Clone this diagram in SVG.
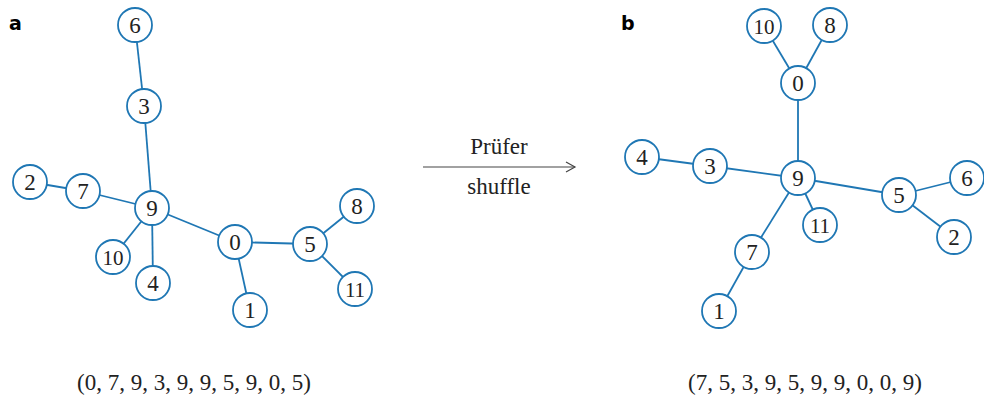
<svg xmlns="http://www.w3.org/2000/svg" width="984" height="400" viewBox="0 0 984 400">
<style>
.n circle{fill:#fff;stroke:#1f77b4;stroke-width:1.8}
.n text{font-family:"Liberation Serif","DejaVu Serif",serif;font-size:23px;fill:#222;text-anchor:middle}
.n text.w{font-size:21px}
.e line{stroke:#1f77b4;stroke-width:1.8}
.lab{font-family:"DejaVu Sans","Liberation Sans",sans-serif;font-weight:bold;font-size:19px;fill:#000}
.t{font-family:"Liberation Serif","DejaVu Serif",serif;font-size:23px;fill:#222;text-anchor:middle}
</style>
<defs>
<marker id="ah" markerWidth="12" markerHeight="12" refX="10" refY="6" orient="auto" markerUnits="userSpaceOnUse">
<path d="M1,1 L10,6 L1,11" fill="none" stroke="#444" stroke-width="1.2"/>
</marker>
</defs>
<rect width="984" height="400" fill="#fff"/>
<text class="lab" x="9" y="30">a</text>
<text class="lab" x="621" y="30">b</text>
<g id="edges-a" class="e">
<line x1="135" y1="25" x2="144" y2="106"/>
<line x1="144" y1="106" x2="152" y2="208"/>
<line x1="30" y1="182" x2="83" y2="191"/>
<line x1="83" y1="191" x2="152" y2="208"/>
<line x1="152" y1="208" x2="113" y2="257"/>
<line x1="152" y1="208" x2="153" y2="283"/>
<line x1="152" y1="208" x2="235" y2="242"/>
<line x1="235" y1="242" x2="250" y2="310"/>
<line x1="235" y1="242" x2="310" y2="244"/>
<line x1="310" y1="244" x2="357" y2="206"/>
<line x1="310" y1="244" x2="355" y2="289"/>
</g>
<g id="edges-b" class="e">
<line x1="764" y1="26" x2="798" y2="83"/>
<line x1="830" y1="25" x2="798" y2="83"/>
<line x1="798" y1="83" x2="798" y2="178"/>
<line x1="642" y1="157" x2="710" y2="166"/>
<line x1="710" y1="166" x2="798" y2="178"/>
<line x1="798" y1="178" x2="899" y2="195"/>
<line x1="899" y1="195" x2="967" y2="178"/>
<line x1="899" y1="195" x2="954" y2="237"/>
<line x1="798" y1="178" x2="820" y2="225"/>
<line x1="798" y1="178" x2="752" y2="252"/>
<line x1="752" y1="252" x2="719" y2="311"/>
</g>
<g id="a6" class="n"><circle cx="135" cy="25" r="17"/><text x="135" y="33">6</text></g>
<g id="a3" class="n"><circle cx="144" cy="106" r="17"/><text x="144" y="114">3</text></g>
<g id="a2" class="n"><circle cx="30" cy="182" r="17"/><text x="30" y="190">2</text></g>
<g id="a7" class="n"><circle cx="83" cy="191" r="17"/><text x="83" y="199">7</text></g>
<g id="a9" class="n"><circle cx="152" cy="208" r="17"/><text x="152" y="216">9</text></g>
<g id="a10" class="n"><circle cx="113" cy="257" r="17"/><text class="w" x="113" y="265">10</text></g>
<g id="a4" class="n"><circle cx="153" cy="283" r="17"/><text x="153" y="291">4</text></g>
<g id="a0" class="n"><circle cx="235" cy="242" r="17"/><text x="235" y="250">0</text></g>
<g id="a1" class="n"><circle cx="250" cy="310" r="17"/><text x="250" y="318">1</text></g>
<g id="a5" class="n"><circle cx="310" cy="244" r="17"/><text x="310" y="252">5</text></g>
<g id="a8" class="n"><circle cx="357" cy="206" r="17"/><text x="357" y="214">8</text></g>
<g id="a11" class="n"><circle cx="355" cy="289" r="17"/><text class="w" x="355" y="297">11</text></g>
<g id="b10" class="n"><circle cx="764" cy="26" r="17"/><text class="w" x="764" y="34">10</text></g>
<g id="b8" class="n"><circle cx="830" cy="25" r="17"/><text x="830" y="33">8</text></g>
<g id="b0" class="n"><circle cx="798" cy="83" r="17"/><text x="798" y="91">0</text></g>
<g id="b4" class="n"><circle cx="642" cy="157" r="17"/><text x="642" y="165">4</text></g>
<g id="b3" class="n"><circle cx="710" cy="166" r="17"/><text x="710" y="174">3</text></g>
<g id="b9" class="n"><circle cx="798" cy="178" r="17"/><text x="798" y="186">9</text></g>
<g id="b6" class="n"><circle cx="967" cy="178" r="17"/><text x="967" y="186">6</text></g>
<g id="b5" class="n"><circle cx="899" cy="195" r="17"/><text x="899" y="203">5</text></g>
<g id="b11" class="n"><circle cx="820" cy="225" r="17"/><text class="w" x="820" y="233">11</text></g>
<g id="b2" class="n"><circle cx="954" cy="237" r="17"/><text x="954" y="245">2</text></g>
<g id="b7" class="n"><circle cx="752" cy="252" r="17"/><text x="752" y="260">7</text></g>
<g id="b1" class="n"><circle cx="719" cy="311" r="17"/><text x="719" y="319">1</text></g>
<g id="arrow">
<line x1="423" y1="167" x2="575" y2="167" stroke="#444" stroke-width="1.2" marker-end="url(#ah)"/>
<text class="t" x="499" y="154">Prüfer</text>
<text class="t" x="499" y="194">shuffle</text>
</g>
<text class="t" x="194" y="390">(0, 7, 9, 3, 9, 9, 5, 9, 0, 5)</text>
<text class="t" x="805" y="390">(7, 5, 3, 9, 5, 9, 9, 0, 0, 9)</text>
</svg>
